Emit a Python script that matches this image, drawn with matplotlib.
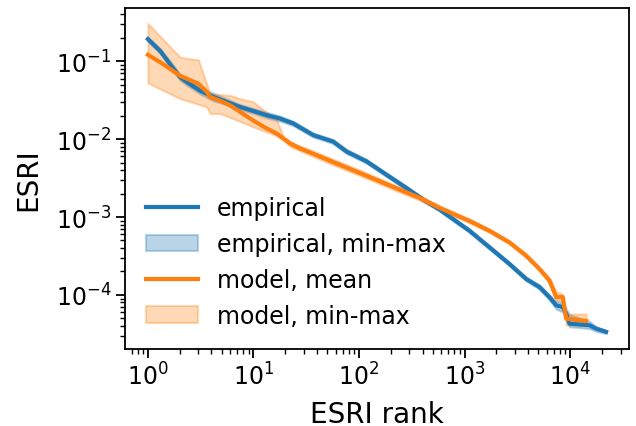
import matplotlib

matplotlib.use("Agg")

import matplotlib.pyplot as plt

# empirical ESRI by rank
emp_rank = [1, 1.31, 1.75, 2.02, 2.34, 3.12, 4.17, 5.58, 7.46, 9.97, 13.3, 17.8, 23.8,
            36.8, 56.9, 76.2, 118, 182, 281, 404, 581, 722, 1117, 1726, 2667, 3837,
            5129, 6370, 7379, 8511, 9170, 9840, 15230, 17630, 21900]
emp_esri = [0.192, 0.135, 0.0798, 0.0625, 0.054, 0.0419, 0.0348, 0.0300, 0.0259, 0.0230,
            0.0203, 0.0184, 0.0159, 0.01127, 0.00929, 0.00693, 0.00517, 0.00349, 0.00236,
            0.00168, 0.00125, 0.00101, 6.64e-4, 4.07e-4, 2.49e-4, 1.60e-4, 1.26e-4,
            9.37e-5, 7.35e-5, 7.0e-5, 5.75e-5, 4.28e-5, 4.08e-5, 3.70e-5, 3.36e-5]
emp_min = [0.180, 0.125, 0.073, 0.057, 0.049, 0.038, 0.031, 0.0275, 0.0240, 0.0213,
           0.0187, 0.0170, 0.0149, 0.0106, 0.0088, 0.0065, 0.0049, 0.00330, 0.00223,
           0.00159, 0.00118, 0.00096, 6.3e-4, 3.85e-4, 2.36e-4, 1.51e-4, 1.18e-4,
           8.6e-5, 6.6e-5, 6.0e-5, 5.0e-5, 3.9e-5, 3.7e-5, 3.4e-5, 3.2e-5]
emp_max = [0.205, 0.145, 0.088, 0.068, 0.059, 0.046, 0.039, 0.033, 0.0278, 0.0248,
           0.0222, 0.0198, 0.0170, 0.0120, 0.0099, 0.0074, 0.0055, 0.00370, 0.00250,
           0.00178, 0.00132, 0.00107, 7.0e-4, 4.3e-4, 2.63e-4, 1.70e-4, 1.35e-4,
           1.0e-4, 8.3e-5, 8.0e-5, 6.6e-5, 5.6e-5, 4.6e-5, 3.9e-5, 3.5e-5]

# model runs: mean and min-max envelope
model_rank = [1, 1.31, 2.02, 3.01, 3.61, 3.88, 4.83, 6.0, 7.46, 9.97, 13.3, 16.6, 19.2,
              22.2, 27.5, 42.6, 65.8, 102, 157, 243, 376, 581, 1117, 1726, 2667, 3837,
              5129, 6370, 7379, 8511, 9170, 14170]
model_mean = [0.121, 0.0971, 0.065, 0.0514, 0.0406, 0.0348, 0.031, 0.0272, 0.0224, 0.0173,
              0.01374, 0.0118, 0.0102, 0.00883, 0.00763, 0.00598, 0.00468, 0.00367,
              0.00288, 0.00225, 0.00176, 0.00131, 8.89e-4, 6.64e-4, 4.71e-4, 3.18e-4,
              2.15e-4, 1.53e-4, 9.37e-5, 9.37e-5, 4.96e-5, 4.64e-5]
model_min = [0.0525, 0.044, 0.0331, 0.028, 0.0259, 0.0213, 0.0213, 0.019, 0.01686, 0.01435,
             0.0124, 0.0110, 0.00966, 0.00802, 0.0071, 0.0055, 0.0043, 0.0034, 0.00266,
             0.00208, 0.00164, 0.00123, 8.4e-4, 6.3e-4, 4.5e-4, 3.02e-4, 2.04e-4,
             1.42e-4, 8.5e-5, 8.5e-5, 4.1e-5, 4.1e-5]
model_max = [0.305, 0.208, 0.1125, 0.104, 0.0506, 0.0383, 0.0372, 0.0365, 0.0331, 0.0301,
             0.0221, 0.0175, 0.01076, 0.00929, 0.0082, 0.0065, 0.0051, 0.0040, 0.00312,
             0.00242, 0.00188, 0.00139, 9.4e-4, 7.0e-4, 4.95e-4, 3.35e-4, 2.27e-4,
             1.65e-4, 1.1e-4, 1.02e-4, 5.7e-5, 5.7e-5]


def main():
    fig = plt.figure(figsize=(6.36, 4.27), dpi=100)
    ax = fig.add_axes([125 / 636, 1 - 350 / 427, 504 / 636, 341 / 427])

    ax.plot(emp_rank, emp_esri, color="C0", lw=3, label="empirical")
    ax.fill_between(emp_rank, emp_min, emp_max, color="C0", alpha=0.3, lw=1.5,
                    label="empirical, min-max")
    ax.plot(model_rank, model_mean, color="C1", lw=3, label="model, mean")
    ax.fill_between(model_rank, model_min, model_max, color="C1", alpha=0.3, lw=1.5,
                    label="model, min-max")

    ax.set_xscale("log")
    ax.set_yscale("log")
    ax.set_xlabel("ESRI rank", fontsize=20, labelpad=7)
    ax.set_ylabel("ESRI", fontsize=20, labelpad=10)
    ax.tick_params(which="major", labelsize=17, length=6.3, width=1.3)
    ax.tick_params(which="minor", length=3.6, width=1.0)
    for spine in ax.spines.values():
        spine.set_linewidth(1.3)

    ax.legend(loc="lower left", frameon=False, fontsize=17, handlelength=2.2)
    fig.savefig("out.png", dpi=100)
    plt.close(fig)


if __name__ == "__main__":
    main()
